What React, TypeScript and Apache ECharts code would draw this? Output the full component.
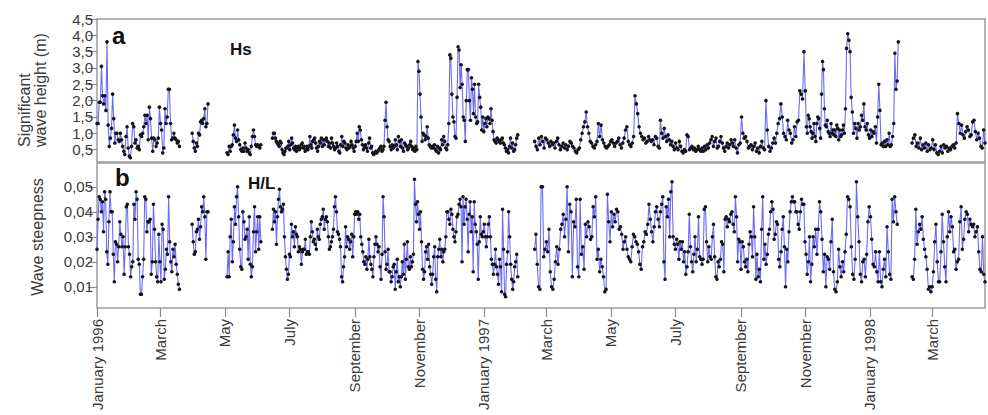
import { useEffect, useRef } from "react";
import * as echarts from "echarts";

// x positions are days since 1 January 1996
const MONTH_DAYS = [0, 60, 121, 182, 244, 305, 366, 425, 486, 547, 609, 670, 731, 790];
const MONTH_LABELS = ["January 1996", "March", "May", "July", "September", "November", "January 1997", "March", "May", "July", "September", "November", "January 1998", "March"];
const HS_TICKS = [0.5, 1, 1.5, 2, 2.5, 3, 3.5, 4, 4.5];
const ST_TICKS = [0.01, 0.02, 0.03, 0.04, 0.05];

// Significant wave height (m)
const HS_1 = [1.3,1.3,1.95,1.95,3.05,2.15,1.9,2.15,1.7,3.8,1.25,0.6,0.85,1.15,2.2,1.45,0.7,1.0,1.0,0.8,0.75,1.0,0.8,0.6,0.45,0.35,0.9,1.2,0.55,0.3,0.25,0.6,1.3,1.2,0.7,0.8,0.55,0.6,0.5,0.95,0.9,1.0,1.2,1.55,1.3,1.55,0.8,1.8,1.45,0.85,0.45,0.85,0.8,0.6,0.7,0.85,1.8,1.3,1.1,0.4,0.55,1.75,1.3,1.5,2.35,2.35,1.3,0.8,0.85,1.0,0.85,0.8,0.7,0.75,0.6];
const HS_2 = [1.0,0.75,0.55,0.45,0.7,0.6,1.0,0.95,1.35,1.4,1.3,1.45,1.75,1.2,1.3,1.9];
const HS_3 = [0.4,0.35,0.6,0.45,0.6,0.65,0.95,1.25,0.85,0.75,1.1,0.8,0.65,0.5,0.45,0.55,0.45,0.7,0.55,0.45,0.5,0.4,0.35,0.6,0.9,1.1,0.9,0.65,0.6,0.65,0.6,0.55,0.65];
const HS_4A = [0.85,1.0,1.0,0.85,0.75,0.7,0.65,0.6,0.75,0.7,0.5,0.4,0.35,0.45,0.55,0.55,0.6,0.75,0.5,0.65,0.85,0.7,0.55,0.5,0.6,0.45,0.55,0.6,0.5,0.55,0.65,0.7,0.55,0.6,0.45,0.5,0.6,0.5,0.6,0.9,0.65,0.55,0.75,0.8,0.85,0.7,0.55,0.45,0.6,0.75,0.7,0.85,0.6,0.8,0.65];
const HS_4B = [0.8,0.85,0.75,0.6,0.7,0.55,0.85,0.7,0.6,0.5,0.55,0.7,0.6,0.45,0.4,0.65,0.9,0.6,0.75,0.7,0.55,0.5,0.65,0.55,0.6,0.75,0.65,0.55,0.45,0.6,0.75,
  1.0,0.75,1.2,1.1,0.8,0.65,0.5,0.6,0.65,0.55,0.45,0.7,0.85,0.55,0.6,0.4,0.35,0.4,0.45,0.4,0.45,0.5,0.55,0.6,0.45,0.5,0.6,1.4,1.95,1.2,0.8,
  0.75,0.6,0.5,0.65,0.55,0.6,0.8,0.65,0.5,0.9,0.75,0.6,0.8,0.55,0.45,0.7,0.65,0.6,0.5,0.55,0.65,0.75,0.6,0.5,0.55,0.45,0.6,0.5,
  3.2,2.9,2.2,1.5,0.75,1.0,0.95,0.8,0.9,1.2,0.85,0.65,0.6,0.55,0.6,0.55,0.65,0.5,0.45,0.6,0.4,0.55,0.5,0.8,0.65,0.9,0.75,0.55,0.5,0.65,1.3,
  3.4,3.3,2.2,1.5,1.35,0.9,0.85,2.1,3.65,3.55,2.4,3.1,2.5,1.5,1.4,0.75,2.0,2.95,2.95,2.0,1.4,2.7,2.35,1.6,2.5,1.5,1.3,1.35,2.5,2.1,1.8,1.1,1.5,1.05,1.3,1.45,
  1.2,1.5,1.45,1.3,1.75,1.4,1.05,0.8,0.75,0.7,0.85,0.8,0.75,0.7,0.8,0.85,0.7,0.65,0.55,0.45,0.5,0.4,0.6,0.85,0.55,0.7,0.45,0.5,0.65,0.85,0.95];
const HS_5A = [0.75,0.6,0.5,0.85,0.65,0.9,0.75,0.55,0.85,0.8,0.7,0.6,0.75,0.65,0.7,0.55,0.75,0.85,0.65,0.5,0.6,0.7,0.55,0.65,0.5,0.6,0.75,0.7,0.6,0.55,0.45,0.4,0.5,0.55,0.8,1.0,1.2,1.35,1.65,1.2,1.0,0.75,0.7,0.6,0.55,0.65,0.75,1.3,0.9,1.25,0.8,0.7,0.6,0.55,0.6,0.65,0.75,0.8,0.7,0.6,0.7,0.75,0.85,0.65,0.55,0.7,0.85,1.1,1.2,0.75,0.65,0.6,0.7,0.9,2.15,1.9,1.6,1.2,1.0,0.9,0.8,0.85,0.7,0.75,0.9,0.8,0.75,0.8,0.65,0.9,0.85,0.6,0.55];
const HS_5B = [1.4,1.0,0.85,1.15,0.9,0.75,0.95,0.8,0.65,0.75,0.6,0.5,0.7,0.55,0.5,0.75,0.6,0.45,0.4,0.5,0.45,0.95,0.9,0.5,0.55,0.6,0.5,0.55,0.45,0.5,0.6,0.5,0.45,0.55,0.45,0.6,0.5,0.65,0.55,0.7,0.8,0.9,0.6,0.75,0.85,0.55,0.6,0.75,0.9,0.7,0.55,0.45,0.6,0.7,0.55,0.65,0.8,0.7];
const HS_5C = [0.6,0.8,0.55,0.4,0.65,0.7,1.5,1.0,0.85,0.9,0.75,0.55,0.6,0.65,0.5,0.6,0.7,0.45,0.55,0.4,0.6,0.75,0.55,0.5,2.0,1.1,0.6,0.45,0.55,0.7,0.85,0.7,1.0,1.3,1.45,1.9,1.5,1.0,0.9,0.8,1.4,1.1,1.0,0.7,0.8,1.2,0.9,1.35,1.4,2.3,2.2,2.05,3.5,2.3];
const HS_5D = [1.2,1.0,1.55,1.45,1.2,1.05,0.85,1.0,1.3,0.9,0.75,1.3,1.5,1.45,1.15,0.85,2.2,3.2,2.95,1.75,1.25,1.2,1.4,1.05,1.0,0.9,1.3,1.0,1.1,0.95,1.1,0.9,1.25,1.15,0.8,1.1,0.9,0.95,1.1,1.25,1.0];
const HS_5E = [1.75,3.6,4.05,3.85,3.5,2.1,1.65,1.0,1.3,1.15,0.85,1.3,1.1,1.2,1.55,1.4,1.9,1.2,1.1,1.3,0.95,0.85,1.1,0.9,1.05,1.0,1.2,0.7,1.5,2.5,1.7,0.65,0.7,0.6,0.75,0.6,0.8,0.65,1.0,0.6,0.65,0.9,1.3,3.45,2.35,2.6,3.8];
const HS_6 = [0.7,0.85,0.95,0.6,0.7,0.55,0.85,0.5,0.65,0.55,0.7,0.45,0.65,0.5,0.55,0.8,0.5,0.65,0.4,0.35,0.45,0.6,0.4,0.65,0.55,0.6,0.45,0.55,0.5,0.6,0.65,0.55,0.7,1.6,1.3,1.0,1.25,0.95,0.85,1.05,1.2,1.1,0.9,0.95,1.35,1.4,1.05,0.8,1.0,0.85,0.6,0.55,1.1,0.7];

// Wave steepness H/L
const ST_1 = [0.025,0.037,0.046,0.045,0.04,0.044,0.032,0.048,0.045,0.024,0.019,0.036,0.048,0.04,0.04,0.023,0.012,0.028,0.027,0.02,0.026,0.036,0.031,0.026,0.03,0.015,0.026,0.042,0.043,0.026,0.023,0.014,0.018,0.02,0.043,0.037,0.048,0.045,0.021,0.019,0.007,0.007,0.014,0.021,0.046,0.045,0.032,0.036,0.036,0.037,0.015,0.02,0.043,0.033,0.02,0.014,0.012,0.031,0.02,0.012,0.035,0.033,0.013,0.017,0.025,0.023,0.046,0.028,0.02,0.016,0.025,0.022,0.027,0.019,0.015,0.011,0.009];
const ST_2 = [0.035,0.028,0.023,0.024,0.032,0.033,0.037,0.029,0.034,0.042,0.04,0.046,0.038,0.021,0.04,0.04];
const ST_3 = [0.014,0.024,0.014,0.03,0.037,0.02,0.028,0.042,0.035,0.046,0.05,0.038,0.025,0.018,0.017,0.04,0.036,0.029,0.03,0.033,0.021,0.038,0.019,0.014,0.018,0.032,0.042,0.024,0.032,0.038,0.025,0.038,0.028];
const ST_4A = [0.033,0.041,0.036,0.04,0.027,0.038,0.045,0.049,0.042,0.04,0.041,0.043,0.03,0.022,0.017,0.013,0.015,0.023,0.022,0.035,0.03,0.032,0.026,0.034,0.031,0.03,0.024,0.026,0.025,0.019,0.024,0.025,0.025,0.029,0.023,0.024,0.024,0.023,0.03,0.036,0.032,0.028,0.029,0.027,0.025,0.033,0.03,0.029,0.035,0.037,0.038,0.041,0.033];
const ST_4B = [0.037,0.038,0.036,0.03,0.025,0.026,0.028,0.03,0.033,0.042,0.046,0.04,0.032,0.031,0.029,0.026,0.014,0.012,0.018,0.022,0.034,0.026,0.03,0.029,0.025,0.028,0.031,0.022,
  0.03,0.039,0.04,0.039,0.04,0.037,0.039,0.03,0.027,0.024,0.02,0.019,0.022,0.017,0.021,0.029,0.022,0.019,0.017,0.014,0.022,0.027,0.03,0.027,0.024,0.026,0.018,0.013,0.023,0.046,0.038,0.024,
  0.017,0.019,0.025,0.016,0.016,0.012,0.014,0.018,0.019,0.009,0.016,0.021,0.012,0.014,0.01,0.014,0.02,0.015,0.027,0.013,0.021,0.028,0.018,0.017,0.022,0.018,0.02,0.023,0.053,
  0.043,0.036,0.044,0.039,0.033,0.04,0.028,0.017,0.013,0.016,0.024,0.026,0.021,0.027,0.018,0.015,0.011,0.015,0.022,0.026,0.013,0.008,0.022,0.025,0.029,0.022,0.025,0.02,0.024,0.025,0.03,0.04,0.04,
  0.037,0.035,0.041,0.039,0.033,0.03,0.028,0.032,0.038,0.039,0.043,0.045,0.042,0.02,0.046,0.035,0.042,0.045,0.037,0.024,0.039,0.044,0.032,0.038,0.016,0.044,0.035,0.032,0.027,0.013,0.028,0.038,0.031,0.03,0.032,0.035,
  0.03,0.026,0.03,0.035,0.038,0.03,0.021,0.019,0.015,0.019,0.025,0.018,0.015,0.011,0.021,0.018,0.008,0.041,0.025,0.007,0.006,0.019,0.024,0.04,0.03,0.019,0.013,0.009,0.012,0.018,0.02,0.023,0.014];
const ST_5A = [0.025,0.031,0.019,0.01,0.009,0.05,0.05,0.022,0.025,0.028,0.024,0.033,0.016,0.01,0.009,0.013,0.02,0.026,0.019,0.025,0.033,0.035,0.039,0.03,0.037,0.05,0.024,0.043,0.04,0.014,0.036,0.034,0.045,0.018,0.014,0.045,0.023,0.026,0.017,0.035,0.03,0.036,0.034,0.029,0.03,0.042,0.038,0.046,0.021,0.025,0.016,0.021,0.018,0.014,0.008,0.009,0.047,0.036,0.028,0.04,0.034,0.039,0.036,0.041,0.04,0.033,0.034,0.031,0.025,0.028,0.03,0.025,0.022,0.021,0.02,0.026,0.031,0.03,0.028,0.027,0.024,0.019,0.017,0.026,0.028,0.032,0.031,0.035,0.043,0.037,0.032,0.028,0.034,0.04,0.042,0.037,0.034];
const ST_5B = [0.04,0.043,0.046,0.02,0.013,0.042,0.038,0.045,0.03,0.048,0.052,0.03,0.027,0.025,0.029,0.027,0.021,0.028,0.025,0.028,0.02,0.024,0.015,0.018,0.024,0.039,0.026,0.02,0.016,0.023,0.03,0.02,0.025,0.038,0.022,0.021,0.019,0.021,0.041,0.042,0.028,0.02,0.026,0.022,0.021,0.03,0.035,0.022,0.014,0.013,0.02,0.018,0.021,0.028,0.027,0.016,0.037,0.038,0.034,0.037,0.036,0.039,0.04,0.035,0.032,0.046,0.038];
const ST_5C = [0.02,0.029,0.028,0.017,0.028,0.026,0.02,0.018,0.021,0.016,0.027,0.032,0.03,0.022,0.042,0.03,0.013,0.023,0.014,0.017,0.012,0.033,0.046,0.021,0.027,0.019,0.023,0.031,0.033,0.04,0.044,0.041,0.029,0.031,0.036,0.035,0.021,0.018,0.024,0.033,0.038,0.026,0.01,0.025,0.02,0.032,0.04,0.044,0.046,0.044,0.044,0.04,0.04,0.035,0.033,0.04,0.045,0.043,0.043,0.028,0.023,0.015,0.02,0.03];
const ST_5D = [0.012,0.019,0.03,0.026,0.033,0.023,0.033,0.044,0.04,0.029,0.016,0.023,0.01,0.022,0.021,0.017,0.028,0.037,0.016,0.009,0.008,0.012,0.025,0.018,0.014,0.02,0.016,0.024,0.031,0.046,0.045,0.042,0.026,0.015,0.013,0.021,0.052,0.038,0.028,0.015,0.012,0.02,0.021,0.014,0.023,0.036,0.042,0.038,0.029,0.019,0.018,0.024,0.016,0.012,0.024,0.012,0.01,0.017,0.021,0.014,0.034,0.024,0.015,0.013,0.045,0.036,0.046,0.04,0.035];
const ST_6 = [0.014,0.013,0.021,0.041,0.027,0.032,0.035,0.033,0.038,0.029,0.025,0.022,0.017,0.009,0.01,0.008,0.01,0.016,0.028,0.035,0.02,0.012,0.012,0.024,0.039,0.028,0.018,0.012,0.03,0.04,0.032,0.038,0.034,0.024,0.025,0.017,0.02,0.021,0.036,0.042,0.025,0.029,0.037,0.04,0.039,0.032,0.037,0.035,0.034,0.035,0.03,0.032,0.034,0.024,0.017,0.016,0.03,0.015,0.012];

// [first day, last day, values, starts a new record after a gap]
type Part = [number, number, number[], boolean];
const HS_PARTS: Part[] = [
  [0, 78, HS_1, true], [90, 105, HS_2, true], [123, 155, HS_3, true],
  [166, 215, HS_4A, true], [216, 398, HS_4B, false],
  [414, 532, HS_5A, true], [533, 601, HS_5B, false], [602, 670, HS_5C, false], [671, 707, HS_5D, false], [708, 758, HS_5E, false],
  [771, 840, HS_6, true],
];
const ST_PARTS: Part[] = [
  [0, 78, ST_1, true], [90, 105, ST_2, true], [123, 155, ST_3, true],
  [166, 215, ST_4A, true], [216, 398, ST_4B, false],
  [414, 532, ST_5A, true], [533, 605, ST_5B, false], [606, 674, ST_5C, false], [675, 757, ST_5D, false],
  [771, 840, ST_6, true],
];

function build(parts: Part[]) {
  const out: any[] = [];
  parts.forEach(([from, to, vals, gap], k) => {
    if (gap && k > 0) out.push([from - 1, "-"]);
    const n = vals.length;
    vals.forEach((v, i) => out.push([from + (n > 1 ? (i * (to - from)) / (n - 1) : 0), v]));
  });
  return out;
}

const FONT = "'Liberation Sans', Arial, Helvetica, sans-serif";

export default function App() {
  const ref = useRef<HTMLDivElement>(null);
  useEffect(() => {
    if (!ref.current) return;
    const chart = echarts.init(ref.current, null, { renderer: "svg" });
    const lineStyle = { color: "#6c6cf4", width: 1.1 };
    const itemStyle = { color: "#141414" };
    const tickLabel = { fontFamily: FONT, fontSize: 15, color: "#3a3a3a" };
    chart.setOption({
      animation: false,
      backgroundColor: "#ffffff",
      grid: [
        { left: 97, right: 3, top: 19, height: 143, show: true, borderColor: "#9c9c9c", borderWidth: 1.5 },
        { left: 97, right: 3, top: 163, height: 145, show: true, borderColor: "#9c9c9c", borderWidth: 1.5 },
      ],
      xAxis: [
        { type: "value", gridIndex: 0, min: 0, max: 840, axisLine: { show: false }, axisTick: { show: false }, axisLabel: { show: false }, splitLine: { show: false } },
        {
          type: "value", gridIndex: 1, min: 0, max: 840,
          axisLine: { show: false },
          axisTick: { show: true, customValues: MONTH_DAYS, length: 9, lineStyle: { color: "#8a8a8a", width: 1.2 } },
          axisLabel: {
            ...tickLabel, customValues: MONTH_DAYS, rotate: 90, margin: 11,
            formatter: (v: number) => { const i = MONTH_DAYS.indexOf(Math.round(v)); return i >= 0 ? MONTH_LABELS[i] : ""; },
          },
          splitLine: { show: false },
        },
      ],
      yAxis: [
        {
          type: "value", gridIndex: 0, min: 0.12, max: 4.5,
          axisLine: { show: false },
          axisTick: { show: true, customValues: HS_TICKS, length: 9, lineStyle: { color: "#8a8a8a", width: 1.2 } },
          axisLabel: { ...tickLabel, customValues: HS_TICKS, margin: 4, formatter: (v: number) => v.toFixed(1).replace(".", ",") },
          splitLine: { show: false },
        },
        {
          type: "value", gridIndex: 1, min: 0.0015, max: 0.0595,
          axisLine: { show: false },
          axisTick: { show: true, customValues: ST_TICKS, length: 9, lineStyle: { color: "#8a8a8a", width: 1.2 } },
          axisLabel: { ...tickLabel, customValues: ST_TICKS, margin: 4, formatter: (v: number) => v.toFixed(2).replace(".", ",") },
          splitLine: { show: false },
        },
      ],
      graphic: [
        { type: "text", x: 24, y: 147, rotation: Math.PI / 2, style: { text: "Significant", font: `16px ${FONT}`, fill: "#3a3a3a", textAlign: "left", textVerticalAlign: "middle" } },
        { type: "text", x: 40, y: 147, rotation: Math.PI / 2, style: { text: "wave height (m)", font: `16px ${FONT}`, fill: "#3a3a3a", textAlign: "left", textVerticalAlign: "middle" } },
        { type: "text", x: 37, y: 237, rotation: Math.PI / 2, style: { text: "Wave steepness", font: `16px ${FONT}`, fill: "#3a3a3a", textAlign: "center", textVerticalAlign: "middle" } },
        { type: "text", x: 112, y: 35, style: { text: "a", font: `bold 24px ${FONT}`, fill: "#111", textAlign: "left", textVerticalAlign: "middle" } },
        { type: "text", x: 115, y: 177, style: { text: "b", font: `bold 24px ${FONT}`, fill: "#111", textAlign: "left", textVerticalAlign: "middle" } },
        { type: "text", x: 230, y: 49, style: { text: "Hs", font: `bold 17px ${FONT}`, fill: "#111", textAlign: "left", textVerticalAlign: "middle" } },
        { type: "text", x: 248, y: 183, style: { text: "H/L", font: `bold 17px ${FONT}`, fill: "#111", textAlign: "left", textVerticalAlign: "middle" } },
      ],
      series: [
        { type: "line", xAxisIndex: 0, yAxisIndex: 0, data: build(HS_PARTS), symbol: "circle", symbolSize: 3.6, itemStyle, lineStyle, connectNulls: false, z: 3 },
        { type: "line", xAxisIndex: 1, yAxisIndex: 1, data: build(ST_PARTS), symbol: "circle", symbolSize: 3.6, itemStyle, lineStyle, connectNulls: false, z: 3 },
      ],
    });
    return () => chart.dispose();
  }, []);
  return <div ref={ref} style={{ position: "fixed", left: 0, top: 0, width: 988, height: 415, background: "#fff" }} />;
}
